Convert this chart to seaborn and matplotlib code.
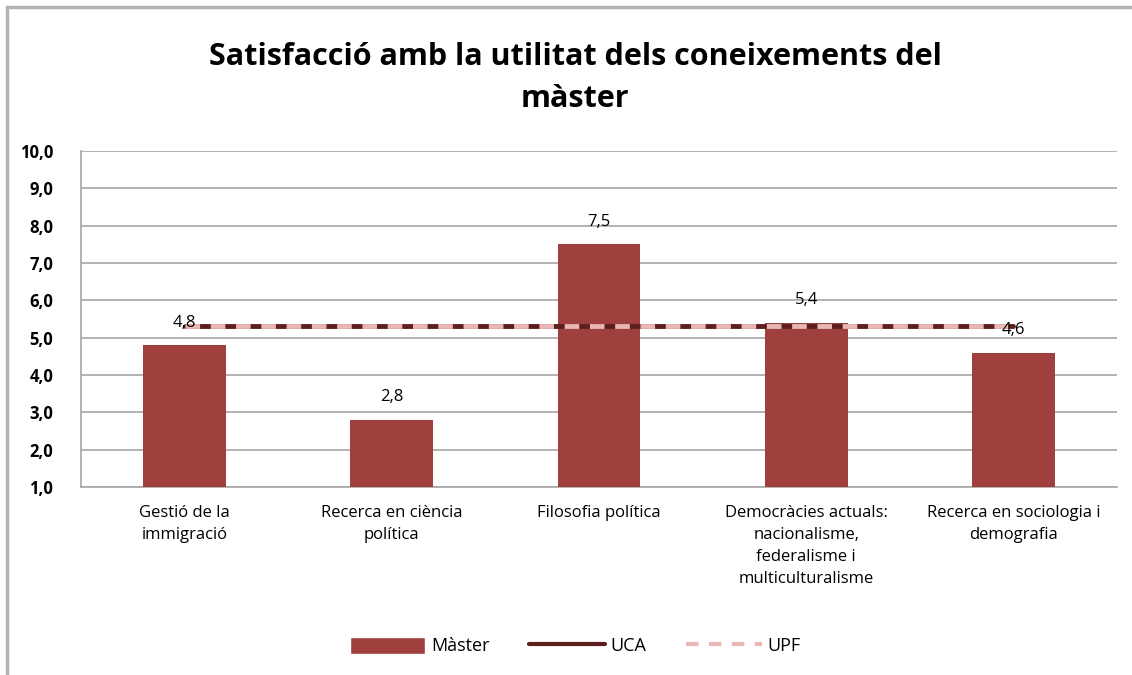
import numpy as np
import pandas as pd
import matplotlib
matplotlib.use("Agg")
import matplotlib.pyplot as plt
from matplotlib.patches import Rectangle, Patch
from matplotlib.lines import Line2D
import seaborn as sns

# ─── Data ────────────────────────────────────────────────────────
categories = [
    "Gestió de la\nimmigració",
    "Recerca en ciència\npolítica",
    "Filosofia política",
    "Democràcies actuals:\nnacionalisme,\nfederalisme i\nmulticulturalisme",
    "Recerca en sociologia i\ndemografia",
]
master = [4.8, 2.8, 7.5, 5.4, 4.6]
uca = [5.3, 5.3, 5.3, 5.3, 5.3]
upf = [5.3, 5.3, 5.3, 5.3, 5.3]
y_ticks = [1, 2, 3, 4, 5, 6, 7, 8, 9, 10]

df = pd.DataFrame({"cat": categories, "Màster": master, "UCA": uca, "UPF": upf})

# ─── Theme ───────────────────────────────────────────────────────
sns.set_theme(style="white")
plt.rcParams["font.family"] = ["Open Sans", "DejaVu Sans"]
plt.rcParams.update({
    "text.color": "black",
    "xtick.color": "black",
    "ytick.color": "black",
})

bar_color = "#A0403E"
uca_color = "#5E1E1D"
upf_color = "#E8B7B6"
grid_color = "#A6A6A6"

fig = plt.figure(figsize=(11.32, 6.75), dpi=100)
fig.patches.append(Rectangle((7 / 1132, -0.1), 1.2, 1 - 7 / 675 + 0.1,
                             transform=fig.transFigure, fill=False,
                             edgecolor="#B3B3B3", linewidth=2.5))

ax = fig.add_axes([81 / 1132, 1 - 487 / 675, (1117 - 81) / 1132, (487 - 151) / 675])

sns.barplot(data=df, x="cat", y="Màster", ax=ax, color=bar_color,
            width=0.40, saturation=1, linewidth=0, zorder=3)
x = np.arange(len(categories))
ax.plot(x, df["UCA"], color=uca_color, linewidth=3.5, zorder=4)
ax.plot(x, df["UPF"], color=upf_color, linewidth=3.5, dashes=(3, 2.2), zorder=5)

for xi, v in zip(x, master):
    ax.text(xi, v + 0.6, f"{v:.1f}".replace(".", ","), ha="center", va="center",
            fontsize=12, zorder=6)

ax.set_xlim(-0.5, len(categories) - 0.5)
ax.set_ylim(1, 10)
ax.set_yticks(y_ticks)
ax.set_yticklabels([f"{t:.1f}".replace(".", ",") for t in y_ticks],
                   fontsize=12, fontweight="bold")
ax.yaxis.grid(True, color=grid_color, linewidth=1.2, zorder=0)
ax.set_axisbelow(True)
ax.tick_params(axis="x", labelsize=12, pad=13, length=0)
ax.tick_params(axis="y", pad=20, length=0)
for lbl in ax.get_xticklabels():
    lbl.set_linespacing(1.5)
ax.set_xlabel("")
ax.set_ylabel("")
for s in ["top", "right"]:
    ax.spines[s].set_visible(False)
for s in ["left", "bottom"]:
    ax.spines[s].set_color(grid_color)
    ax.spines[s].set_linewidth(1.2)

fig.text(575 / 1132, 1 - 78 / 675,
         "Satisfacció amb la utilitat dels coneixements del\nmàster",
         ha="center", va="center", fontsize=22, fontweight="bold",
         linespacing=1.5)

handles = [
    Patch(facecolor=bar_color, label="Màster"),
    Line2D([], [], color=uca_color, linewidth=3, label="UCA"),
    Line2D([], [], color=upf_color, linewidth=3, dashes=(3, 2.5), label="UPF"),
]
fig.legend(handles=handles, loc="center", bbox_to_anchor=(575 / 1132, 1 - 646 / 675),
           ncol=3, frameon=False, fontsize=13, handlelength=4.2, handleheight=1.1,
           columnspacing=2.2, handletextpad=0.3)

fig.savefig("out.png", dpi=100)
